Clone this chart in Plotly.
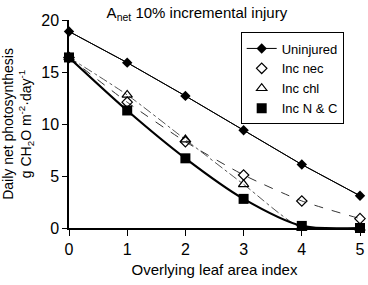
import plotly.graph_objects as go

lai = [0, 1, 2, 3, 4, 5]
uninjured = [18.9, 15.9, 12.7, 9.4, 6.1, 3.1]
inc_nec = [16.4, 12.1, 8.3, 5.1, 2.6, 0.9]
inc_chl = [16.4, 12.8, 8.5, 4.2, 0.0, 0.0]
inc_nc = [16.4, 11.3, 6.7, 2.8, 0.2, 0.0]

fig = go.Figure()
font = "Liberation Sans, Arial, sans-serif"

m_chl = dict(symbol="triangle-up-open", size=9, color="black", line=dict(width=1.2, color="black"))
m_nec = dict(symbol="diamond-open", size=8, color="black", line=dict(width=1.2, color="black"))
m_nc = dict(symbol="square", size=10, color="black")
m_un = dict(symbol="diamond", size=8, color="black")

# lines (clipped, no legend)
fig.add_trace(go.Scatter(x=lai, y=inc_chl, mode="lines", showlegend=False,
                         line=dict(color="#555", width=1, dash="dashdot", shape="spline", smoothing=0.6)))
fig.add_trace(go.Scatter(x=lai, y=inc_nec, mode="lines", showlegend=False,
                         line=dict(color="#333", width=1, dash="dash", shape="spline", smoothing=0.6)))
fig.add_trace(go.Scatter(x=lai, y=inc_nc, mode="lines", showlegend=False,
                         line=dict(color="black", width=2.2, shape="spline", smoothing=0.8)))
fig.add_trace(go.Scatter(x=lai, y=uninjured, mode="lines", showlegend=False,
                         line=dict(color="black", width=1)))
# markers (not clipped)
fig.add_trace(go.Scatter(x=lai, y=uninjured, mode="lines+markers", name="Uninjured",
                         line=dict(color="black", width=1), marker=m_un, cliponaxis=False))
fig.add_trace(go.Scatter(x=lai, y=inc_nec, mode="markers", name="Inc nec",
                         marker=m_nec, cliponaxis=False))
fig.add_trace(go.Scatter(x=lai, y=inc_chl, mode="markers", name="Inc chl",
                         marker=m_chl, cliponaxis=False))
fig.add_trace(go.Scatter(x=lai, y=inc_nc, mode="markers", name="Inc N &amp; C",
                         marker=m_nc, cliponaxis=False))

fig.update_layout(
    width=368, height=285,
    margin=dict(l=69, r=8, t=20, b=57, autoexpand=False),
    paper_bgcolor="white", plot_bgcolor="white",
    font=dict(family=font, color="black", size=13),
    title=dict(text="A<sub>net</sub> 10% incremental injury", x=0.535, xanchor="center",
               y=0.955, yanchor="middle", font=dict(size=15)),
    xaxis=dict(range=[0, 5], tickvals=lai, showline=True, linecolor="black", linewidth=1.5,
               ticks="outside", ticklen=6, tickcolor="black", showgrid=False, zeroline=False,
               tickfont=dict(size=16), automargin=False,
               title=dict(text="Overlying leaf area index", font=dict(size=15), standoff=8)),
    yaxis=dict(range=[0, 20], tickvals=[0, 5, 10, 15, 20], showline=True, linecolor="black",
               linewidth=1.5, ticks="outside", ticklen=5, tickcolor="black", showgrid=False,
               zeroline=False, tickfont=dict(size=16), automargin=False,
               title=dict(text="Daily net photosynthesis<br>g CH<sub>2</sub>O m<sup>-2</sup>·day<sup>-1</sup>",
                          font=dict(size=14), standoff=6)),
    legend=dict(x=0.59, y=0.94, xanchor="left", yanchor="top", bgcolor="white",
                bordercolor="black", borderwidth=1, font=dict(size=13),
                itemwidth=30),
)
fig.write_html("out.html", config={"displayModeBar": False},
               post_script="document.body.style.margin='0';document.body.style.padding='0';")
